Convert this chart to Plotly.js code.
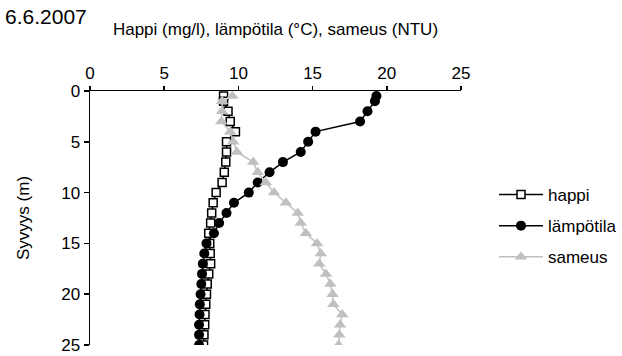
<!DOCTYPE html>
<html>
<head>
<meta charset="utf-8">
<script src="https://cdn.plot.ly/plotly-3.0.1.min.js"></script>
<style>
  html, body { margin: 0; padding: 0; background: #fff; }
  #chart { width: 622px; height: 356px; }
</style>
</head>
<body>
<div id="chart"></div>
<script>
// Depth profile, 6.6.2007
const depth = [0.5, 1, 2, 3, 4, 5, 6, 7, 8, 9, 10, 11, 12, 13, 14, 15, 16, 17, 18, 19, 20, 21, 22, 23, 24, 25];
const happi = [9.0, 9.0, 9.3, 9.45, 9.8, 9.2, 9.2, 9.15, 9.05, 8.9, 8.5, 8.3, 8.2, 8.13, 8.0, 8.07, 8.1, 8.13, 8.0, 7.9, 7.85, 7.8, 7.75, 7.73, 7.68, 7.65];
const lampotila = [19.3, 19.2, 18.7, 18.2, 15.2, 14.7, 14.2, 13.0, 12.1, 11.3, 10.7, 9.7, 9.2, 8.7, 8.35, 7.85, 7.7, 7.6, 7.55, 7.5, 7.45, 7.4, 7.38, 7.35, 7.35, 7.35];
const sameus = [9.6, 8.9, 8.9, 8.85, 9.45, 9.65, 9.9, 11.0, 11.3, 11.85, 12.4, 13.2, 14.0, 14.2, 14.55, 15.3, 15.55, 15.45, 15.9, 16.2, 16.35, 16.4, 17.0, 16.85, 16.8, 16.75];
const xTicks = [0, 5, 10, 15, 20, 25];
const yTicks = [0, 5, 10, 15, 20, 25];

const FONT = 'Liberation Sans, Arial, sans-serif';

const traces = [
  {
    name: 'happi', x: happi, y: depth, type: 'scatter', mode: 'lines+markers',
    legendgroup: 'a',
    line: { color: '#000', width: 1.5 },
    marker: { symbol: 'square', size: 8, color: '#fff', line: { color: '#000', width: 1.5 } }
  },
  {
    name: 'lämpötila', x: lampotila, y: depth, type: 'scatter', mode: 'lines+markers',
    legendgroup: 'b',
    line: { color: '#000', width: 1.5 },
    marker: { symbol: 'circle', size: 10, color: '#000' }
  },
  {
    name: 'sameus', x: sameus, y: depth, type: 'scatter', mode: 'lines+markers',
    legendgroup: 'c',
    line: { color: '#c0c0c0', width: 1.5 },
    marker: { symbol: 'triangle-up', size: 11, color: '#c0c0c0' }
  }
];

const layout = {
  width: 622, height: 356,
  margin: { l: 90, r: 161, t: 91, b: 11 },
  paper_bgcolor: '#fff', plot_bgcolor: '#fff',
  font: { family: FONT, size: 17, color: '#000' },
  showlegend: true,
  title: {
    text: '6.6.2007', font: { family: FONT, size: 21, color: '#000' },
    xref: 'container', yref: 'container', x: 5 / 622, xanchor: 'left', y: 1 - 17 / 356, yanchor: 'middle'
  },
  xaxis: {
    side: 'top', range: [0, 25], tickvals: xTicks, ticktext: xTicks.map(String),
    showline: true, linecolor: '#000', linewidth: 1.5, ticks: 'outside', ticklen: 4, tickwidth: 1.5, tickcolor: '#000',
    showgrid: false, zeroline: false,
    tickfont: { family: FONT, size: 17 },
    title: { text: 'Happi (mg/l), lämpötila (°C), sameus (NTU)', font: { family: FONT, size: 17 }, standoff: 24 }
  },
  yaxis: {
    range: [25, 0], tickvals: yTicks, ticktext: yTicks.map(String),
    showline: true, linecolor: '#000', linewidth: 1.5, ticks: 'outside', ticklen: 5, tickwidth: 1.5, tickcolor: '#000',
    showgrid: false, zeroline: false,
    tickfont: { family: FONT, size: 17 },
    title: { text: 'Syvyys (m)', font: { family: FONT, size: 17 }, standoff: 27 }
  },
  legend: {
    xref: 'container', yref: 'container',
    x: 494 / 622, xanchor: 'left', y: 1 - 226 / 356, yanchor: 'middle',
    traceorder: 'grouped', tracegroupgap: 6, itemwidth: 44,
    borderwidth: 0,
    font: { family: FONT, size: 17, color: '#000' },
    bgcolor: 'rgba(0,0,0,0)'
  }
};

Plotly.newPlot('chart', traces, layout, { displayModeBar: false, staticPlot: true });
</script>
</body>
</html>
